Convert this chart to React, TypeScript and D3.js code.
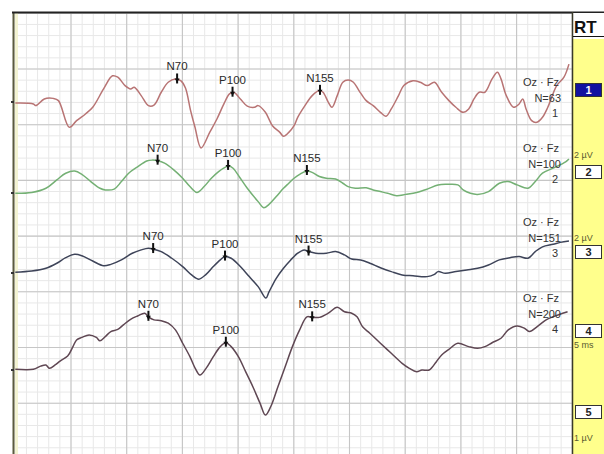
import React from "react";
import * as d3 from "d3";

// ---- data (time in ms, amplitude in µV) ----
const timeDomain = [0, 200];
const ampDomain = [8, -8];

const trace1Time = [0,6.5,7.4,10.4,13.6,15.5,19.4,22.0,25.2,27.8,31.7,34.9,36.8,39.4,41.4,42.7,45.2,47.8,49.8,52.4,54.9,57.5,59.5,61.1,62.9,64.5,66.7,69.8,72.4,74.9,76.9,78.4,80.8,83.3,85.9,87.2,89.8,92.4,95.0,96.3,98.2,100.1,101.4,104.0,106.6,109.2,110.5,112.4,113.7,115.6,117.6,119.5,121.4,123.4,126.0,128.5,131.1,133.1,135.0,137.6,139.5,142.8,145.4,147.9,150.5,153.1,155.7,158.2,160.8,162.8,164.7,166.6,168.6,171.2,173.1,174.4,176.3,178.9,180.9,182.2,183.4,185.4,187.3,189.3,191.2,194.4,197.0,198.8];
const trace1Volt = [-0.04,-0.07,-0.13,0.11,0.13,0.05,-0.91,-0.67,-0.43,-0.19,0.47,0.94,0.89,0.59,0.47,0.53,0.23,-0.13,-0.11,0.35,0.71,0.83,0.76,0.50,-0.29,-0.90,-1.65,-1.09,-0.61,-0.07,0.29,0.35,0.11,-0.15,-0.19,-0.13,-0.37,-0.86,-1.09,-1.23,-1.09,-0.85,-0.55,-0.13,0.23,0.41,0.35,-0.01,-0.19,0.23,0.71,0.79,0.71,0.41,0.05,-0.13,-0.37,-0.51,-0.25,0.23,0.59,0.76,0.71,0.59,0.71,0.35,0.05,-0.19,-0.37,-0.25,0.11,0.35,0.35,0.83,1.07,0.83,0.23,-0.19,-0.07,0.11,-0.25,-0.67,-0.73,-0.55,-0.19,0.59,0.89,1.36];

const trace2Time = [0,5.9,11.0,14.9,18.1,21.3,23.9,27.1,30.4,32.3,35.5,38.1,40.7,43.9,47.2,49.1,51.1,53.6,56.9,60.1,62.7,65.2,67.8,70.4,73.0,75.6,76.6,78.2,80.8,83.3,87.2,89.2,91.1,93.7,96.3,98.2,100.1,102.1,104.7,106.6,109.2,111.7,115.0,117.6,119.5,122.1,126.0,128.5,131.1,133.7,136.9,140.2,144.1,147.9,151.8,155.0,158.9,160.8,163.4,166.0,169.9,173.8,177.0,180.2,184.1,186.7,189.3,193.1,197.6,198.8];
const trace2Volt = [-0.01,0.02,0.17,0.47,0.71,0.79,0.67,0.41,0.17,0.11,0.14,0.41,0.71,0.94,1.15,1.18,1.16,1.07,0.83,0.53,0.23,0.02,0.23,0.53,0.77,0.94,0.98,0.89,0.53,0.17,-0.31,-0.53,-0.41,-0.13,0.17,0.35,0.53,0.67,0.79,0.74,0.59,0.53,0.50,0.35,0.23,0.17,0.19,0.11,0.05,-0.01,-0.10,-0.05,0.02,0.14,0.29,0.31,0.29,0.11,-0.01,-0.05,0.05,0.35,0.41,0.29,0.17,0.41,0.71,0.89,1.12,1.22];

const trace3Time = [0,5.9,11.0,14.9,18.1,21.3,23.9,27.8,31.7,34.3,38.1,42.0,45.2,47.8,49.5,52.4,56.2,60.1,63.3,65.9,68.5,71.1,73.6,75.3,77.5,80.8,84.0,87.2,90.0,91.1,93.7,96.3,98.9,101.4,103.7,105.3,107.9,111.7,115.0,118.2,120.8,124.0,127.3,131.1,135.0,138.9,142.8,147.9,150.5,151.8,154.4,158.2,162.1,166.0,169.9,173.8,177.6,180.9,184.1,186.7,189.3,193.1,195.7,198.8];
const trace3Volt = [0.03,0.07,0.17,0.35,0.55,0.67,0.62,0.43,0.26,0.31,0.47,0.71,0.83,0.89,0.86,0.77,0.53,0.23,-0.07,-0.22,-0.05,0.23,0.47,0.59,0.53,0.23,-0.13,-0.49,-0.90,-0.68,-0.19,0.17,0.47,0.71,0.83,0.77,0.71,0.71,0.77,0.65,0.50,0.47,0.35,0.19,0.05,-0.07,-0.10,-0.13,-0.05,0.05,-0.01,0.05,0.11,0.17,0.29,0.47,0.55,0.59,0.53,0.77,0.94,1.03,1.10,1.15];

const trace4Time = [0,6.5,9.1,11.0,12.3,14.3,16.2,18.8,20.7,22.0,23.9,26.5,29.1,30.4,32.3,34.3,36.8,38.8,41.4,43.9,46.5,47.8,49.8,52.4,54.9,57.5,60.1,62.7,64.6,66.3,68.5,71.1,73.6,75.6,77.5,80.1,82.7,85.3,87.9,89.8,91.7,94.3,96.9,99.5,102.1,104.7,106.6,109.2,112.4,115.6,118.2,120.8,122.7,124.7,127.3,131.1,135.0,138.9,141.5,144.1,146.0,148.6,151.2,153.1,155.7,158.9,162.8,166.0,168.6,171.2,174.4,177.0,180.2,182.8,184.7,187.3,190.6,193.1,198.3];
const trace4Volt = [0.03,0.03,0.14,0.18,0.06,0.18,0.33,0.50,0.84,1.08,1.17,1.26,1.17,1.05,1.20,1.38,1.46,1.62,1.82,1.94,2.04,1.91,1.80,1.77,1.68,1.44,0.96,0.48,0.06,-0.18,0.06,0.48,0.84,0.98,0.84,0.48,-0.06,-0.60,-1.20,-1.62,-1.32,-0.60,0.12,0.84,1.44,1.91,1.89,1.89,2.04,2.25,2.09,2.04,1.91,1.55,1.32,0.96,0.60,0.24,0.06,-0.06,0.00,0.00,0.30,0.54,0.74,0.96,0.84,0.78,0.84,0.98,1.14,1.44,1.58,1.50,1.38,1.55,1.80,1.91,2.09];

const traceOffsets = [4.815, 1.548, -1.325, -4.808];
const sweepCounts = [63, 100, 151, 200];
const traceIds = ["1", "2", "3", "4"];
const montageLabel = "Oz · Fz";
const peakNames = ["N70", "P100", "N155"];
const peakTimes1 = [58.1, 78.0, 109.4];
const peakTimes2 = [51.1, 76.4, 104.7];
const peakTimes3 = [49.5, 75.3, 105.3];
const peakTimes4 = [47.8, 75.6, 106.6];
const panelTitle = "RT";
const panelBoxes = ["1", "2", "3", "4", "5"];
const panelNotes = ["2 µV", "2 µV", "5 ms", "1 µV"];

// ---- styling / layout ----
const W = 604;
const H = 454;
const traceColors = ["#b87474", "#74b074", "#3e4459", "#5f4753"];
const labelTops = [82, 148, 222, 298];
const boxCenters = [90, 172, 252, 331, 412];
const noteYs = [158, 241, 348, 441];
const FONT = "'Liberation Sans', Arial, sans-serif";

const traces = [
  { t: trace1Time, v: trace1Volt, peaks: peakTimes1 },
  { t: trace2Time, v: trace2Volt, peaks: peakTimes2 },
  { t: trace3Time, v: trace3Volt, peaks: peakTimes3 },
  { t: trace4Time, v: trace4Volt, peaks: peakTimes4 },
];

export default function App() {
  const x = d3.scaleLinear().domain(timeDomain).range([15.3, 572.3]);
  const y = d3.scaleLinear().domain(ampDomain).range([13.3, 458.9]);

  const minorX = d3.range(0, 200.001, 4);
  const majorX = d3.range(0, 200.001, 20);
  const minorY = d3.range(-8, 8.001, 0.4);
  const majorY = d3.range(-8, 8.001, 2);

  const valueAt = (ts: number[], vs: number[], t: number) => {
    const i = d3.bisectLeft(ts, t);
    if (i <= 0) return vs[0];
    if (i >= ts.length) return vs[vs.length - 1];
    const f = (t - ts[i - 1]) / (ts[i] - ts[i - 1]);
    return vs[i - 1] + f * (vs[i] - vs[i - 1]);
  };

  return (
    <div>
      <style>{`body{margin:0;background:#fff}`}</style>
      <svg width={W} height={H} style={{ display: "block" }} fontFamily={FONT}>
        <rect x={0} y={0} width={W} height={H} fill="#fff" />
        {/* grid */}
        <g>
          {minorX.map((d, i) => (
            <line key={"mx" + i} x1={x(d)} x2={x(d)} y1={13} y2={H} stroke="#e8e8e8" strokeWidth={1} />
          ))}
          {minorY.map((d, i) => (
            <line key={"my" + i} x1={15} x2={572} y1={y(d)} y2={y(d)} stroke="#e8e8e8" strokeWidth={1} />
          ))}
          {majorX.map((d, i) => (
            <line key={"Mx" + i} x1={x(d)} x2={x(d)} y1={13} y2={H} stroke="#c6c6c6" strokeWidth={1.1} />
          ))}
          {majorY.map((d, i) => (
            <line key={"My" + i} x1={15} x2={572} y1={y(d)} y2={y(d)} stroke="#c6c6c6" strokeWidth={1.1} />
          ))}
        </g>
        {/* left border */}
        <rect x={15} y={13} width={3} height={H - 13} fill="#f3f3d2" />
        <line x1={13.5} x2={13.5} y1={12} y2={H} stroke="#5b5b3e" strokeWidth={2} />
        {traceOffsets.map((o, i) => (
          <line key={"bt" + i} x1={11} x2={14} y1={y(o)} y2={y(o)} stroke="#333" strokeWidth={2} />
        ))}
        {/* top border */}
        <line x1={12} x2={W} y1={12.5} y2={12.5} stroke="#222" strokeWidth={2} />

        {/* traces */}
        {traces.map((tr, k) => {
          const pts = d3.zip(tr.t, tr.v) as [number, number][];
          const line = d3
            .line<[number, number]>()
            .x((d) => x(d[0]))
            .y((d) => y(d[1] + traceOffsets[k]))
            .curve(d3.curveCatmullRom.alpha(0.5));
          return (
            <path key={"tr" + k} d={line(pts) || ""} fill="none" stroke={traceColors[k]} strokeWidth={1.5} strokeLinejoin="round" />
          );
        })}

        {/* peak markers */}
        {traces.map((tr, k) =>
          tr.peaks.map((pt, j) => {
            const px = x(pt);
            const py = y(valueAt(tr.t, tr.v, pt) + traceOffsets[k]);
            return (
              <g key={"pk" + k + "-" + j}>
                <line x1={px} x2={px} y1={py - 6} y2={py + 4} stroke="#111" strokeWidth={2} />
                <path d={`M${px - 2.5},${py - 1} L${px + 2.5},${py - 1} L${px},${py + 3} Z`} fill="#111" />
                <text x={px} y={py - 9} textAnchor="middle" fontSize={11.5} fill="#2a2a2a">
                  {peakNames[j]}
                </text>
              </g>
            );
          })
        )}

        {/* right-side trace labels */}
        {traceIds.map((id, k) => (
          <g key={"lb" + k} fontSize={11} fill="#333" textAnchor="end">
            <text x={559} y={labelTops[k] + 4}>{montageLabel}</text>
            <text x={561} y={labelTops[k] + 19.5}>{"N=" + sweepCounts[k]}</text>
            <text x={558} y={labelTops[k] + 35}>{id}</text>
          </g>
        ))}

        {/* right panel */}
        <rect x={572} y={13} width={W - 572} height={H - 13} fill="#fff" />
        <rect x={572} y={39} width={W - 572} height={H - 39} fill="#ffff8c" />
        <line x1={572.5} x2={572.5} y1={12} y2={H} stroke="#3a3a2a" strokeWidth={1.5} />
        <text x={574} y={33} fontSize={17} fontWeight="bold" fill="#111">{panelTitle}</text>
        <line x1={573} x2={W} y1={36.5} y2={36.5} stroke="#111" strokeWidth={1} />
        {panelBoxes.map((b, i) => (
          <g key={"bx" + i}>
            <rect x={575.5} y={boxCenters[i] - 6.5} width={26} height={13}
              fill={i === 0 ? "#1212a0" : "#fff"} stroke="#333" strokeWidth={1} />
            <text x={588.5} y={boxCenters[i] + 4} textAnchor="middle" fontSize={11} fontWeight="bold"
              fill={i === 0 ? "#fff" : "#222"}>{b}</text>
          </g>
        ))}
        {panelNotes.map((n, i) => (
          <text key={"nt" + i} x={574} y={noteYs[i]} fontSize={9} fill="#5a5a30">{n}</text>
        ))}
      </svg>
    </div>
  );
}
